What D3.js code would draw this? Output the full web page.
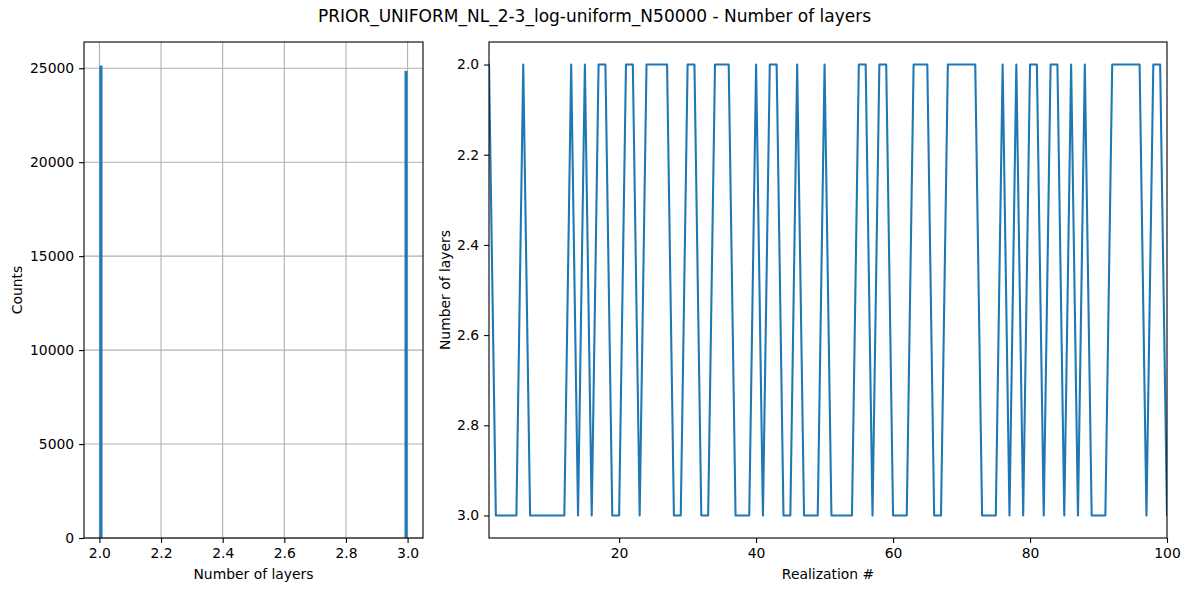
<!DOCTYPE html>
<html><head><meta charset="utf-8">
<script src="https://cdn.jsdelivr.net/npm/d3@7"></script>
<style>
body{margin:0;background:#fff;}
svg{display:block;font-family:"DejaVu Sans",sans-serif;}
.tick text{font-size:13.9px;fill:#000;font-family:"DejaVu Sans",sans-serif;}
.tick line{stroke:#000;stroke-width:1.1;}
.domain{display:none;}
</style></head>
<body><svg id="chart" width="1189" height="592"></svg>
<script>
// ---- data ----
const title = "PRIOR_UNIFORM_NL_2-3_log-uniform_N50000 - Number of layers";
// histogram (100 bins between 2 and 3; only first and last bins populated)
const histBinStart = [2.00, 2.99];
const histBinWidth = 0.01;
const histCounts = [25140, 24860];
const histXTicks = [2.0, 2.2, 2.4, 2.6, 2.8, 3.0];
const histYTicks = [0, 5000, 10000, 15000, 20000, 25000];
// realizations 1..100
const realization = d3.range(1, 101);
const nLayers = [
 2,3,3,3,3,2,3,3,3,3, 3,3,2,3,2,3,2,2,3,3,
 2,2,3,2,2,2,2,3,3,2, 2,3,3,2,2,2,3,3,3,2,
 3,2,2,3,3,2,3,3,3,2, 3,3,3,3,2,2,3,2,2,3,
 3,3,2,2,2,3,3,2,2,2, 2,2,3,3,3,2,3,2,3,2,
 2,3,2,2,3,2,3,2,3,3, 3,2,2,2,2,2,3,2,2,3
];
const lineXTicks = [20, 40, 60, 80, 100];
const lineYTicks = [2.0, 2.2, 2.4, 2.6, 2.8, 3.0];

const svg = d3.select("#chart");
svg.append("rect").attr("width",1189).attr("height",592).attr("fill","#fff");
const blue = "#1f77b4";
const tk = 4.9, pad = 4.9;

// ---- left: histogram ----
const L = {x0:84, x1:423, y0:42, y1:538};
const hx = d3.scaleLinear().domain([1.95, 3.05]).range([L.x0, L.x1]);
const hy = d3.scaleLinear().domain([0, d3.max(histCounts)*1.05]).range([L.y1, L.y0]);
const gl = svg.append("g");
// grid
gl.selectAll(".gx").data(histXTicks).join("line")
  .attr("x1",d=>hx(d)).attr("x2",d=>hx(d)).attr("y1",L.y0).attr("y2",L.y1)
  .attr("stroke","#b0b0b0").attr("stroke-width",1.1);
gl.selectAll(".gy").data(histYTicks).join("line")
  .attr("x1",L.x0).attr("x2",L.x1).attr("y1",d=>hy(d)).attr("y2",d=>hy(d))
  .attr("stroke","#b0b0b0").attr("stroke-width",1.1);
// bars
gl.selectAll(".bar").data(histCounts).join("rect")
  .attr("x",(d,i)=>hx(histBinStart[i]))
  .attr("width",(d,i)=>hx(histBinStart[i]+histBinWidth)-hx(histBinStart[i]))
  .attr("y",d=>hy(d)).attr("height",d=>L.y1-hy(d)).attr("fill",blue);
gl.append("g").attr("transform",`translate(0,${L.y1})`)
  .call(d3.axisBottom(hx).tickValues(histXTicks).tickFormat(d3.format(".1f")).tickSize(tk).tickPadding(pad));
gl.append("g").attr("transform",`translate(${L.x0},0)`)
  .call(d3.axisLeft(hy).tickValues(histYTicks).tickFormat(d3.format("d")).tickSize(tk).tickPadding(pad));
gl.append("rect").attr("x",L.x0).attr("y",L.y0).attr("width",L.x1-L.x0).attr("height",L.y1-L.y0)
  .attr("fill","none").attr("stroke","#000").attr("stroke-width",1.1);
gl.append("text").attr("x",(L.x0+L.x1)/2).attr("y",579).attr("text-anchor","middle")
  .attr("font-size","13.9px").text("Number of layers");
gl.append("text").attr("transform",`translate(22,${(L.y0+L.y1)/2}) rotate(-90)`).attr("text-anchor","middle")
  .attr("font-size","13.9px").text("Counts");

// ---- right: line ----
const R = {x0:489, x1:1167, y0:42, y1:538};
const lx = d3.scaleLinear().domain([1, 100]).range([R.x0, R.x1]);
const ly = d3.scaleLinear().domain([1.95, 3.05]).range([R.y0, R.y1]);
const gr = svg.append("g");
gr.append("defs").append("clipPath").attr("id","clipR").append("rect")
  .attr("x",R.x0).attr("y",R.y0).attr("width",R.x1-R.x0).attr("height",R.y1-R.y0);
gr.append("path").datum(nLayers)
  .attr("clip-path","url(#clipR)")
  .attr("d", d3.line().x((d,i)=>lx(realization[i])).y(d=>ly(d)))
  .attr("fill","none").attr("stroke",blue).attr("stroke-width",2.08)
  .attr("stroke-linejoin","round").attr("stroke-linecap","square");
gr.append("g").attr("transform",`translate(0,${R.y1})`)
  .call(d3.axisBottom(lx).tickValues(lineXTicks).tickFormat(d3.format("d")).tickSize(tk).tickPadding(pad));
gr.append("g").attr("transform",`translate(${R.x0},0)`)
  .call(d3.axisLeft(ly).tickValues(lineYTicks).tickFormat(d3.format(".1f")).tickSize(tk).tickPadding(pad));
gr.append("rect").attr("x",R.x0).attr("y",R.y0).attr("width",R.x1-R.x0).attr("height",R.y1-R.y0)
  .attr("fill","none").attr("stroke","#000").attr("stroke-width",1.1);
gr.append("text").attr("x",(R.x0+R.x1)/2).attr("y",579).attr("text-anchor","middle")
  .attr("font-size","13.9px").text("Realization #");
gr.append("text").attr("transform",`translate(450,${(R.y0+R.y1)/2}) rotate(-90)`).attr("text-anchor","middle")
  .attr("font-size","13.9px").text("Number of layers");

// ---- title ----
svg.append("text").attr("x",594.5).attr("y",22).attr("text-anchor","middle")
  .attr("font-size","17px").text(title);
</script></body></html>
